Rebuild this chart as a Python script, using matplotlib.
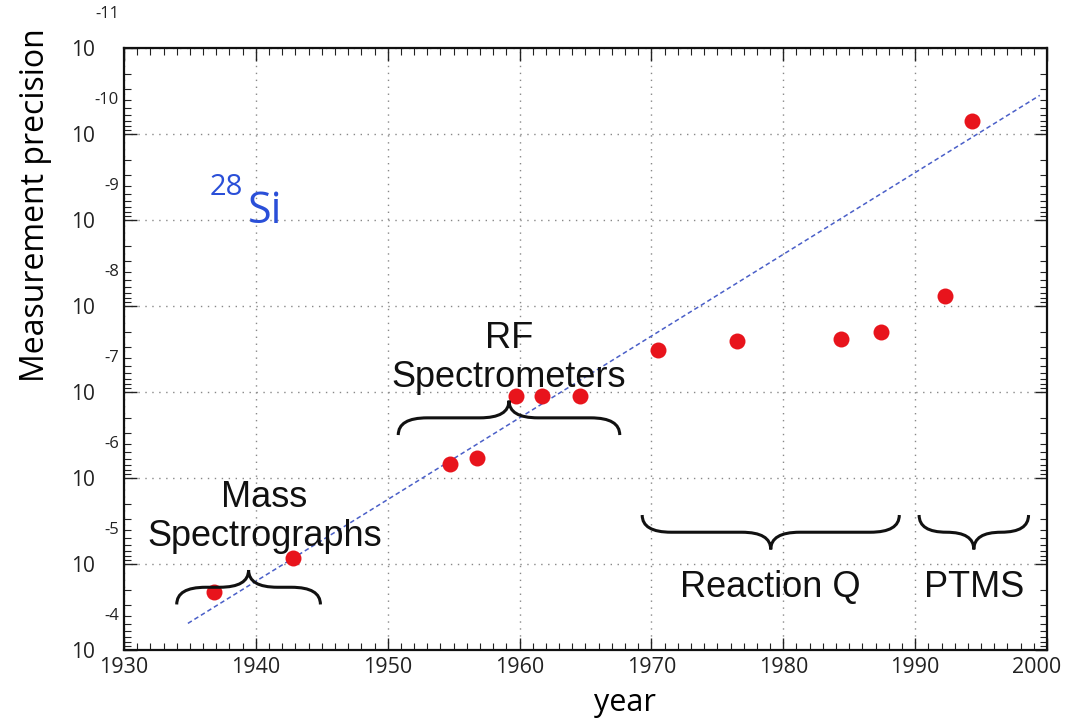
import numpy as np
import matplotlib
matplotlib.use("Agg")
import matplotlib.pyplot as plt
import matplotlib.transforms as mtransforms
from matplotlib.path import Path
from matplotlib.patches import PathPatch
from matplotlib.ticker import LogLocator, MultipleLocator, NullFormatter

# measured relative precision of the 28Si mass, by year
years = [1936.8, 1942.8, 1954.7, 1956.8, 1959.7, 1961.7, 1964.6,
         1970.5, 1976.5, 1984.4, 1987.4, 1992.3, 1994.3]
exps = [4.67, 5.07, 6.16, 6.23, 6.95, 6.95, 6.95,
        7.49, 7.59, 7.62, 7.70, 8.12, 10.15]
precision = [10.0 ** -e for e in exps]

# trend line end points
fit_years = [1934.85, 1999.45]
fit_exps = [4.31, 10.45]

decades = [4, 5, 6, 7, 8, 9, 10, 11]
year_ticks = [1930, 1940, 1950, 1960, 1970, 1980, 1990, 2000]

# technique groups: (label, start year, end year, brace level, tip up?, text shift px)
groups = [
    ("Mass\nSpectrographs", 1934.0, 1944.9, 4.73, True, (16, 16)),
    ("RF\nSpectrometers", 1950.8, 1967.6, 6.70, True, (0, 6)),
    ("Reaction Q", 1969.3, 1988.8, 5.37, False, (0, -21)),
    ("PTMS", 1990.3, 1998.6, 5.37, False, (0, -21)),
]

plt.rcParams["font.family"] = ["Open Sans", "DejaVu Sans"]
annot_font = ["Liberation Sans", "DejaVu Sans"]

fig = plt.figure(figsize=(10.65, 7.25), dpi=100)
ax = fig.add_axes([0.1164, 0.1034, 0.8667, 0.8303])

ax.set_yscale("log")
ax.set_xlim(1930, 2000)
ax.set_ylim(1e-4, 1e-11)

ax.plot(fit_years, [10.0 ** -e for e in fit_exps], linestyle=(0, (3, 2)),
        color="#4a5fc8", linewidth=1.1, zorder=2)
ax.plot(years, precision, "o", color="#e8141c", markersize=11.5,
        markeredgewidth=0, zorder=3)


def brace(x0, x1, e_line, tip_up, depth=0.2, tip=0.2):
    xm = (x0 + x1) / 2
    r = min(2.2, (x1 - x0) / 4)
    sgn = 1 if tip_up else -1
    e_end = e_line - sgn * depth
    e_tip = e_line + sgn * tip
    pts = [(x0, e_end), (x0, e_line), (x0 + r, e_line),
           (xm - r, e_line), (xm, e_line), (xm, e_tip),
           (xm, e_line), (xm + r, e_line),
           (x1 - r, e_line), (x1, e_line), (x1, e_end)]
    codes = [Path.MOVETO, Path.CURVE3, Path.CURVE3,
             Path.LINETO, Path.CURVE3, Path.CURVE3,
             Path.CURVE3, Path.CURVE3,
             Path.LINETO, Path.CURVE3, Path.CURVE3]
    verts = [(x, 10.0 ** -e) for x, e in pts]
    ax.add_patch(PathPatch(Path(verts, codes), fill=False, edgecolor="#111111",
                           linewidth=2.2, zorder=4))
    return xm, e_tip


for label, x0, x1, lvl, up, shift in groups:
    xm, e_tip = brace(x0, x1, lvl, up)
    ax.annotate(label, xy=(xm, 10.0 ** -e_tip), xytext=shift,
                textcoords="offset pixels", ha="center",
                va="bottom" if up else "top",
                fontsize=26, linespacing=1.15, color="#111111",
                family=annot_font)

# 28Si label
ax.text(0.093, 0.756, "28", transform=ax.transAxes, fontsize=21,
        color="#2a4fd8", ha="left", va="baseline")
ax.text(0.134, 0.709, "Si", transform=ax.transAxes, fontsize=31,
        color="#2a4fd8", ha="left", va="baseline")

# axes styling
ax.set_xticks(year_ticks)
ax.set_xticklabels([str(y) for y in year_ticks])
ax.xaxis.set_minor_locator(MultipleLocator(1))
ax.set_yticks([10.0 ** -d for d in decades])
ax.set_yticklabels(["10"] * len(decades))
ax.yaxis.set_minor_locator(LogLocator(base=10, subs=np.arange(2, 10), numticks=50))
ax.yaxis.set_minor_formatter(NullFormatter())

ax.tick_params(which="both", direction="in", top=True, right=True,
               colors="#222222", labelcolor="#222222")
ax.tick_params(which="major", length=9, width=1.0)
ax.tick_params(which="minor", length=5, width=0.8)
ax.tick_params(axis="y", which="major", pad=21, labelsize=15)
ax.tick_params(axis="x", which="major", pad=5, labelsize=15.5)

# last year label sits a little inside the edge
last = ax.get_xticklabels()[-1]
last.set_transform(last.get_transform() +
                   mtransforms.ScaledTranslation(-0.10, 0, fig.dpi_scale_trans))

for d in decades:
    ax.annotate(f"-{d}", xy=(0, 10.0 ** -d), xycoords=("axes fraction", "data"),
                xytext=(-5, 34), textcoords="offset pixels", ha="right",
                va="center", fontsize=12, color="#222222")

ax.grid(True, which="major", linestyle=(0, (1, 4)), color="#888888",
        linewidth=1.0)
for s in ax.spines.values():
    s.set_linewidth(1.6)
    s.set_color("#111111")

ax.set_xlabel("year", fontsize=22)
ax.xaxis.set_label_coords(0.543, -0.063)
ax.set_ylabel("Measurement precision", fontsize=23)
ax.yaxis.set_label_coords(-0.078, 0.739)

fig.savefig("out.png", dpi=100)
